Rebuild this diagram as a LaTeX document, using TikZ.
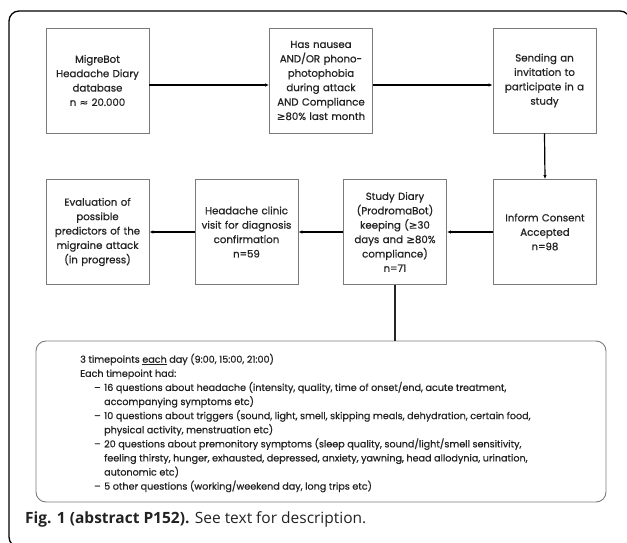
\documentclass[tikz,border=0pt]{standalone}
\usepackage{fontspec}
\setmainfont{Poppins}
\newfontfamily\boxfont{Poppins}[FakeBold=0.7]
\newfontfamily\capfont{Open Sans}
\newfontfamily\dvfont{DejaVu Sans}[FakeBold=0.5]
\usetikzlibrary{arrows.meta}
\definecolor{boxgray}{HTML}{7A7A7A}
\definecolor{txt}{HTML}{222222}
\newcommand{\itm}{\hspace*{14pt}\makebox[10pt][l]{–}}
\newcommand{\cnt}{\hspace*{24pt}}
\begin{document}
\begin{tikzpicture}[x=1pt,y=-1pt,
  stepbox/.style={draw=boxgray, line width=0.9pt, minimum width=103pt, minimum height=105pt,
    inner sep=0pt, align=center, text width=102pt, text=txt,
    font=\boxfont\fontsize{10.2}{14.4}\selectfont},
  arr/.style={line width=1.2pt, -{Latex[length=4pt,width=3.5pt]}},
  frame/.style={line width=1.3pt, rounded corners=10pt},
]
\useasboundingbox (0,0) rectangle (627,543);
\clip (0,0) rectangle (627,543);
\draw[frame] (9,11) rectangle (630,547);

\node[stepbox] (b1) at (97.5,80.5) {MigreBot\\Headache Diary\\database\\n {\dvfont ≈} 20.000};
\node[stepbox] (b2) at (321,80.5) {Has nausea\\AND/OR phono-\\photophobia\\during attack\\AND Compliance\\{\dvfont ≥}80\% last month};
\node[stepbox] (b3) at (544.5,80.5) {Sending an\\invitation to\\participate in a\\study};

\node[stepbox] (b4) at (97.5,232) {Evaluation of\\possible\\predictors of the\\migraine attack\\(in progress)};
\node[stepbox] (b5) at (246.5,232) {Headache clinic\\visit for diagnosis\\confirmation\\n=59};
\node[stepbox] (b6) at (395,232) {Study Diary\\(ProdromaBot)\\keeping ({\dvfont ≥}30\\days and {\dvfont ≥}80\%\\compliance)\\n=71};
\node[stepbox] (b7) at (545,232) {Inform Consent\\Accepted\\n=98};

\draw[arr] ([yshift=-4.5pt]b1.east) -- ([yshift=-4.5pt]b2.west);
\draw[arr] ([yshift=-4.5pt]b2.east) -- ([yshift=-4.5pt]b3.west);
\draw[arr] (b3.south) -- (b7.north);
\draw[arr] (b7.west) -- (b6.east);
\draw[arr] (b6.west) -- (b5.east);
\draw[arr] (b5.west) -- (b4.east);

\node[draw=boxgray, line width=0.9pt, rounded corners=10pt, minimum width=570pt, minimum height=161pt, inner sep=0pt] (det) at (321,421.5) {};
\draw[line width=1.1pt, draw=black!85] (b6.south) -- (b6.south |- det.north);

\node[anchor=west, align=left, inner sep=0pt, text=txt, font=\boxfont\fontsize{9.6}{14.1}\selectfont] (dtext) at (80,423)
{3 timepoints \underline{each} day (9:00, 15:00, 21:00)\\
Each timepoint had:\\
\itm 16 questions about headache (intensity, quality, time of onset/end, acute treatment,\\
\cnt accompanying symptoms etc)\\
\itm 10 questions about triggers (sound, light, smell, skipping meals, dehydration, certain food,\\
\cnt physical activity, menstruation etc)\\
\itm 20 questions about premonitory symptoms (sleep quality, sound/light/smell sensitivity,\\
\cnt feeling thirsty, hunger, exhausted, depressed, anxiety, yawning, head allodynia, urination,\\
\cnt autonomic etc)\\
\itm 5 other questions (working/weekend day, long trips etc)};

\node[anchor=base west, inner sep=0pt, text=txt, font=\capfont\fontsize{15.5}{18}\selectfont] (cap) at (25,523)
{\textbf{Fig. 1 (abstract P152).} See text for description.};
\end{tikzpicture}
\end{document}
